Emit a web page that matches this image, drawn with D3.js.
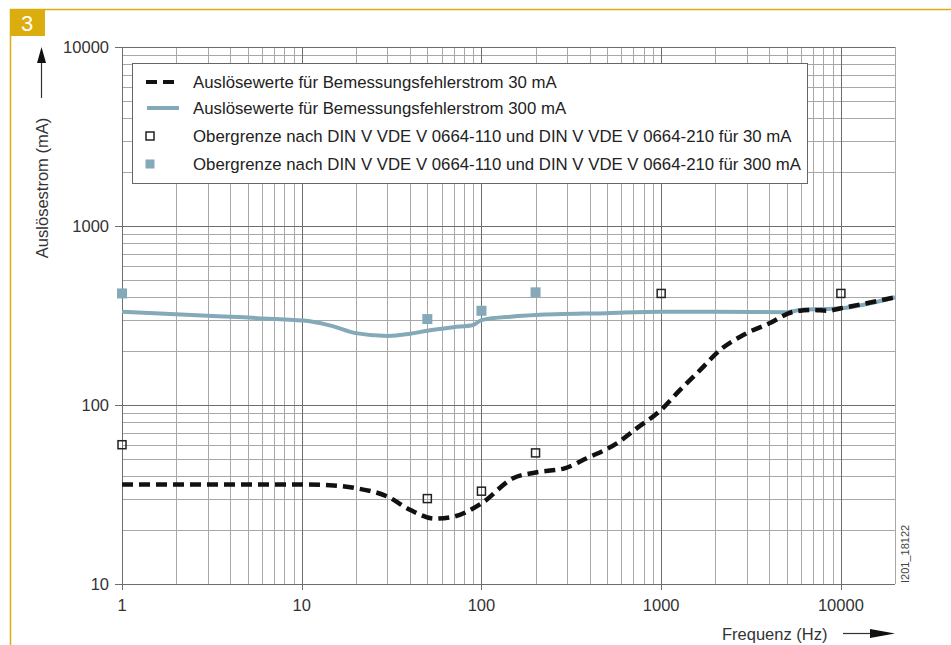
<!DOCTYPE html>
<html lang="de">
<head>
<meta charset="UTF-8">
<title>Auslösestrom</title>
<script src="https://d3js.org/d3.v7.min.js"></script>
<style>
  body { margin: 0; background: #fff; }
  text { font-family: "Liberation Sans", Arial, sans-serif; }
</style>
</head>
<body>
<script>
// Frequenz in Hz, Auslösestrom in mA
var freq30 = [1, 5, 10, 15, 20, 30, 40, 55, 70, 100, 150, 200, 290, 385, 566, 730, 1000, 1270, 1650, 2130, 3000, 4000, 5450, 7000, 8400, 10000, 20000];
var val30  = [36, 36, 36, 35.5, 34.3, 30.8, 26, 23.2, 23.8, 28.2, 39, 42, 44.3, 50.4, 61, 74, 94, 121, 157, 203, 252, 286, 332, 340, 336, 347, 400];

var freq300 = [1, 3, 7.6, 11.5, 15, 20, 30, 40, 50, 70, 90, 100, 150, 200, 500, 1000, 2000, 5000, 6000, 10000, 20000];
var val300  = [332, 315, 301, 292, 275, 252, 243, 250, 260, 272, 280, 298, 312, 318, 326, 332, 332, 330, 340, 347, 400];

var limFreq30 = [1, 50, 100, 200, 1000, 10000];
var limVal30  = [60, 30, 33, 54, 420, 420];
var limFreq300 = [1, 50, 100, 200];
var limVal300  = [420, 302, 336, 426];

var xTicks = [1, 10, 100, 1000, 10000];
var yTicks = [10, 100, 1000, 10000];
var legendLabels = [
  "Auslösewerte für Bemessungsfehlerstrom 30 mA",
  "Auslösewerte für Bemessungsfehlerstrom 300 mA",
  "Obergrenze nach DIN V VDE V 0664-110 und DIN V VDE V 0664-210 für 30 mA",
  "Obergrenze nach DIN V VDE V 0664-110 und DIN V VDE V 0664-210 für 300 mA"
];

var W = 951, H = 645;
var pLeft = 122, pRight = 895, pTop = 47, pBottom = 584;
var gold = "#dcad0f", blue = "#84a9b8";

var svg = d3.select("body").append("svg").attr("width", W).attr("height", H);

// frame and badge
svg.append("path").attr("d", "M10.5,645 V9.5 H951")
  .attr("fill", "none").attr("stroke", gold).attr("stroke-width", 1.5);
svg.append("rect").attr("x", 10).attr("y", 9).attr("width", 35).attr("height", 27).attr("fill", gold);
svg.append("text").attr("x", 27).attr("y", 31).attr("text-anchor", "middle")
  .attr("fill", "#fff").attr("font-size", 22).text("3");

var x = d3.scaleLog().domain([1, 20000]).range([pLeft, pRight]);
var y = d3.scaleLog().domain([10, 10000]).range([pBottom, pTop]);

// grid
var minorX = [], minorY = [];
[1, 10, 100, 1000, 10000].forEach(function (d) {
  for (var k = 2; k <= 9; k++) { if (d * k <= 20000) minorX.push(d * k); }
});
[10, 100, 1000].forEach(function (d) {
  for (var k = 2; k <= 9; k++) minorY.push(d * k);
});
var grid = svg.append("g");
grid.selectAll(".vx").data(minorX).enter().append("line")
  .attr("x1", function (d) { return Math.round(x(d)) + 0.5; })
  .attr("x2", function (d) { return Math.round(x(d)) + 0.5; })
  .attr("y1", pTop).attr("y2", pBottom).attr("stroke", "#a8a8a8");
grid.selectAll(".hy").data(minorY).enter().append("line")
  .attr("y1", function (d) { return Math.round(y(d)) + 0.5; })
  .attr("y2", function (d) { return Math.round(y(d)) + 0.5; })
  .attr("x1", pLeft).attr("x2", pRight).attr("stroke", "#a8a8a8");
grid.selectAll(".mx").data(xTicks).enter().append("line")
  .attr("x1", function (d) { return Math.round(x(d)) + 0.5; })
  .attr("x2", function (d) { return Math.round(x(d)) + 0.5; })
  .attr("y1", pTop).attr("y2", pBottom + 6).attr("stroke", "#6e6e6e");
grid.selectAll(".my").data(yTicks).enter().append("line")
  .attr("y1", function (d) { return Math.round(y(d)) + 0.5; })
  .attr("y2", function (d) { return Math.round(y(d)) + 0.5; })
  .attr("x1", pLeft - 7).attr("x2", pRight).attr("stroke", "#6e6e6e");

// tick labels
svg.selectAll(".xl").data(xTicks).enter().append("text")
  .attr("x", function (d) { return x(d); }).attr("y", 611)
  .attr("text-anchor", "middle").attr("font-size", 16.5).attr("fill", "#333")
  .text(function (d) { return d; });
svg.selectAll(".yl").data(yTicks).enter().append("text")
  .attr("x", 109).attr("y", function (d) { return y(d) + 6; })
  .attr("text-anchor", "end").attr("font-size", 16.5).attr("fill", "#333")
  .text(function (d) { return d; });

// axis titles with arrows
svg.append("text").attr("transform", "translate(48,188) rotate(-90)")
  .attr("text-anchor", "middle").attr("font-size", 16.5).attr("fill", "#333")
  .text("Auslösestrom (mA)");
svg.append("line").attr("x1", 41.5).attr("x2", 41.5).attr("y1", 98).attr("y2", 60)
  .attr("stroke", "#333").attr("stroke-width", 1.2);
svg.append("path").attr("d", "M41.5,47 L37,63 L46,63 Z").attr("fill", "#111");

svg.append("text").attr("x", 722).attr("y", 640).attr("font-size", 16.5).attr("fill", "#333")
  .text("Frequenz (Hz)");
svg.append("line").attr("x1", 843).attr("x2", 875).attr("y1", 633.5).attr("y2", 633.5)
  .attr("stroke", "#333").attr("stroke-width", 1.2);
svg.append("path").attr("d", "M895,633.5 L870,629 L870,638 Z").attr("fill", "#111");

svg.append("text").attr("transform", "translate(909,583) rotate(-90)")
  .attr("font-size", 11).attr("fill", "#444").text("I201_18122");

// legend box
var lg = svg.append("g");
lg.append("rect").attr("x", 132.5).attr("y", 63.5).attr("width", 675).attr("height", 120)
  .attr("fill", "#fff").attr("stroke", "#666");
var rowY = [82, 108, 136, 164];
lg.append("line").attr("x1", 146).attr("x2", 178).attr("y1", rowY[0]).attr("y2", rowY[0])
  .attr("stroke", "#111").attr("stroke-width", 4).attr("stroke-dasharray", "11,6");
lg.append("line").attr("x1", 147).attr("x2", 179).attr("y1", rowY[1]).attr("y2", rowY[1])
  .attr("stroke", blue).attr("stroke-width", 4);
lg.append("rect").attr("x", 146).attr("y", rowY[2] - 4).attr("width", 8).attr("height", 8)
  .attr("fill", "#fff").attr("stroke", "#222").attr("stroke-width", 1.5);
lg.append("rect").attr("x", 145.5).attr("y", rowY[3] - 4.5).attr("width", 9).attr("height", 9)
  .attr("fill", blue);
lg.selectAll("text").data(legendLabels).enter().append("text")
  .attr("x", 193).attr("y", function (d, i) { return rowY[i] + 6; })
  .attr("font-size", 16.8).attr("fill", "#222").text(function (d) { return d; });

// curves
var line = d3.line()
  .x(function (d) { return x(d[0]); })
  .y(function (d) { return y(d[1]); })
  .curve(d3.curveMonotoneX);

svg.append("path").datum(d3.zip(freq300, val300)).attr("d", line)
  .attr("fill", "none").attr("stroke", blue).attr("stroke-width", 4);
svg.append("path").datum(d3.zip(freq30, val30)).attr("d", line)
  .attr("fill", "none").attr("stroke", "#111").attr("stroke-width", 4.5)
  .attr("stroke-dasharray", "11,6");

// limit markers
svg.selectAll(".p300").data(d3.zip(limFreq300, limVal300)).enter().append("rect")
  .attr("x", function (d) { return x(d[0]) - 5; })
  .attr("y", function (d) { return y(d[1]) - 5; })
  .attr("width", 10).attr("height", 10).attr("fill", blue);
svg.selectAll(".p30").data(d3.zip(limFreq30, limVal30)).enter().append("rect")
  .attr("x", function (d) { return x(d[0]) - 4; })
  .attr("y", function (d) { return y(d[1]) - 4; })
  .attr("width", 8).attr("height", 8)
  .attr("fill", "none").attr("stroke", "#222").attr("stroke-width", 1.5);
</script>
</body>
</html>
